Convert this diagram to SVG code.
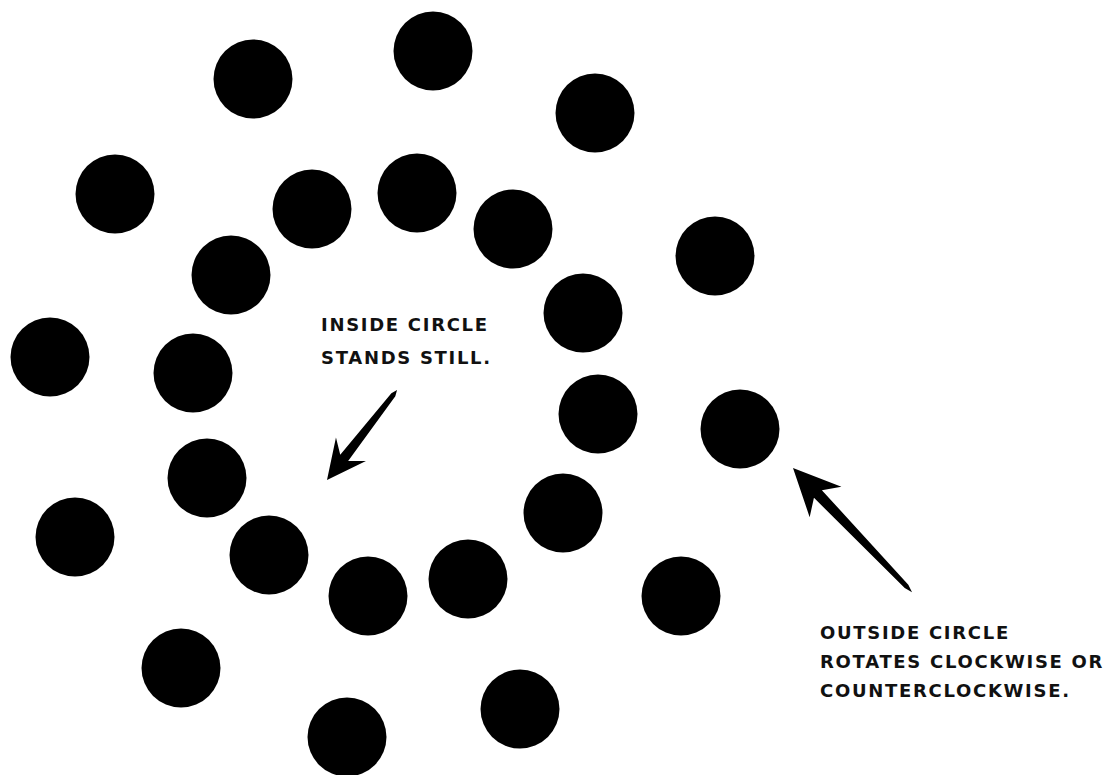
<svg xmlns="http://www.w3.org/2000/svg" width="1114" height="775" viewBox="0 0 1114 775">
<style>
.dot{fill:#000}
.lbl{font-family:"DejaVu Sans","Liberation Sans",sans-serif;font-weight:bold;font-size:18px;letter-spacing:1.7px;fill:#111}
.arr{fill:#000}
</style>
<rect width="1114" height="775" fill="#fff"/>
<g id="outer-circle">
<circle id="o1" class="dot" cx="253" cy="79" r="39.5"/>
<circle id="o2" class="dot" cx="433" cy="51" r="39.5"/>
<circle id="o3" class="dot" cx="595" cy="113" r="39.5"/>
<circle id="o4" class="dot" cx="115" cy="194" r="39.5"/>
<circle id="o5" class="dot" cx="715" cy="256" r="39.5"/>
<circle id="o6" class="dot" cx="50" cy="357" r="39.5"/>
<circle id="o7" class="dot" cx="740" cy="429" r="39.5"/>
<circle id="o8" class="dot" cx="75" cy="537" r="39.5"/>
<circle id="o9" class="dot" cx="681" cy="596" r="39.5"/>
<circle id="o10" class="dot" cx="181" cy="668" r="39.5"/>
<circle id="o11" class="dot" cx="520" cy="709" r="39.5"/>
<circle id="o12" class="dot" cx="347" cy="737" r="39.5"/>
</g>
<g id="inner-circle">
<circle id="i1" class="dot" cx="312" cy="209" r="39.5"/>
<circle id="i2" class="dot" cx="417" cy="193" r="39.5"/>
<circle id="i3" class="dot" cx="513" cy="229" r="39.5"/>
<circle id="i4" class="dot" cx="231" cy="275" r="39.5"/>
<circle id="i5" class="dot" cx="583" cy="313" r="39.5"/>
<circle id="i6" class="dot" cx="193" cy="373" r="39.5"/>
<circle id="i7" class="dot" cx="598" cy="414" r="39.5"/>
<circle id="i8" class="dot" cx="207" cy="478" r="39.5"/>
<circle id="i9" class="dot" cx="563" cy="513" r="39.5"/>
<circle id="i10" class="dot" cx="269" cy="555" r="39.5"/>
<circle id="i11" class="dot" cx="468" cy="579" r="39.5"/>
<circle id="i12" class="dot" cx="368" cy="596" r="39.5"/>
</g>
<g id="connectors">
<path class="arr" transform="translate(327,480) rotate(127.9)" d="M0,0 L-39,-19 L-28,-5 L-108,-2.5 L-114,0 L-108,2.5 L-28,5 L-39,19 Z"/>
<path class="arr" transform="translate(793,468) rotate(-133.8)" d="M0,0 L-47,-22 L-36,-5.5 L-164,-2.5 L-172,0 L-164,2.5 L-36,5.5 L-47,22 Z"/>
</g>
<g id="label-inside">
<text class="lbl" x="321" y="331">INSIDE CIRCLE</text>
<text class="lbl" x="321" y="364">STANDS STILL.</text>
</g>
<g id="label-outside">
<text class="lbl" x="820" y="639">OUTSIDE CIRCLE</text>
<text class="lbl" x="820" y="668">ROTATES CLOCKWISE OR</text>
<text class="lbl" x="820" y="697">COUNTERCLOCKWISE.</text>
</g>
</svg>
